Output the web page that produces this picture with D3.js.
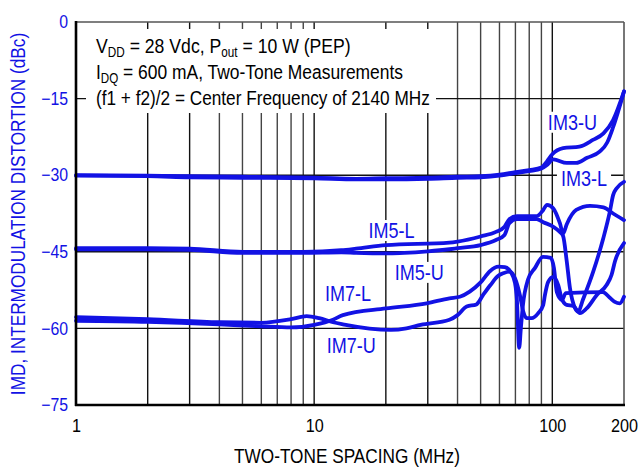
<!DOCTYPE html>
<html>
<head>
<meta charset="utf-8">
<script src="https://cdn.jsdelivr.net/npm/d3@7"></script>
<style>
  body { margin: 0; background: #fff; }
  text { font-family: "Liberation Sans", Arial, sans-serif; }
</style>
</head>
<body>
<script>
const width = 639;
const height = 467;
const blue = "#1212e4";

// tick values
const xTicks = [1, 10, 100, 200];
const yTicks = [0, -15, -30, -45, -60, -75];
const xGrid = [2, 3, 4, 5, 6, 7, 8, 9, 10, 20, 30, 40, 50, 60, 70, 80, 90, 100];
const yGrid = [-15, -30, -45, -60];

// series: [two-tone spacing MHz, IMD dBc]
const im3u = [[1,-30.0],[2,-30.1],[3,-30.2],[5,-30.3],[10,-30.5],[15,-30.7],[20,-30.6],[30,-30.5],[40,-30.3],[50,-30.2],[60,-29.9],[70,-29.4],[80,-29.0],[90,-28.5],[95,-27.3],[100,-25.9],[111,-24.7],[130,-24.4],[148,-23.1],[164,-21.8],[180,-19.2],[200,-13.6]];
const im3l = [[1,-30.1],[2,-30.2],[3,-30.4],[5,-30.5],[10,-30.6],[15,-30.8],[20,-30.8],[30,-30.7],[40,-30.5],[50,-30.4],[60,-30.1],[70,-29.6],[80,-29.2],[90,-28.7],[95,-28.0],[101,-26.9],[115,-27.6],[126,-27.6],[140,-26.6],[158,-25.4],[170,-23.6],[180,-20.6],[200,-13.6]];
const im5l = [[1,-44.3],[2,-44.3],[3,-44.4],[5,-45.0],[9,-45.0],[13,-44.7],[15,-44.4],[20,-43.7],[37,-43.2],[40,-43.0],[50,-42.0],[58,-41.1],[63,-40.1],[66,-38.6],[71,-38.0],[86,-38.0],[91.6,-36.8],[95,-35.8],[101,-36.5],[107.6,-39.4],[111,-41.4],[115,-39.6],[126,-36.8],[144,-36.0],[164,-36.3],[180,-37.5],[200,-38.8]];
const im5u = [[1,-44.5],[2,-44.5],[3,-44.6],[5,-45.2],[9,-45.2],[13,-45.1],[15,-45.2],[20,-45.3],[30,-44.9],[37,-44.5],[40,-44.3],[50,-43.7],[58,-42.7],[63,-41.7],[66,-39.4],[71,-38.6],[86,-38.6],[91.6,-39.2],[101,-40.1],[107.6,-41.1],[111,-41.9],[114.8,-46.6],[118.6,-52.1],[124.5,-56.0],[128.5,-56.7],[134.4,-54.4],[148.5,-48.9],[163.6,-42.4],[174.5,-37.1],[180,-33.9],[186,-32.6],[200,-31.3]];
const im7l = [[1,-58.5],[2,-58.7],[4,-59.2],[6,-59.6],[8,-59.8],[10,-59.3],[12,-58.3],[13.2,-57.4],[20,-56.1],[29.7,-55.1],[37,-54.1],[40.9,-53.8],[45,-52.8],[50,-51.0],[54.7,-48.8],[59.3,-47.9],[63.2,-48.0],[67,-49.0],[69.7,-51.1],[71,-54.4],[72.6,-63.8],[73.8,-59.9],[75.3,-55.4],[79,-50.5],[84.5,-48.2],[91.3,-46.0],[98.6,-46.2],[101.6,-48.2],[104.5,-52.9],[109.7,-54.4],[114,-53.1],[163,-52.9],[174.5,-54.0],[183,-54.8],[192,-55.1],[200,-53.8]];
const im7u = [[1,-57.8],[2,-58.2],[4,-58.8],[6,-58.9],[8,-58.2],[9.3,-57.6],[10.5,-58.0],[12,-58.8],[13.2,-59.2],[21,-60.3],[24.4,-60.0],[28,-59.3],[37,-58.3],[40,-57.4],[43.7,-55.7],[48,-55.3],[51.3,-53.4],[55,-51.5],[59.3,-49.7],[62.2,-49.2],[66.4,-48.9],[69.7,-50.2],[73.1,-53.5],[75.5,-56.7],[78,-58.0],[81.9,-58.0],[87.3,-57.0],[91.6,-55.4],[93.1,-53.5],[96.1,-50.9],[100.9,-49.9],[105.9,-51.5],[109.4,-54.1],[114.8,-55.4],[122.4,-55.6],[130.6,-57.0],[139.3,-56.1],[153.5,-53.5],[169,-51.5],[177.4,-49.5],[183.2,-46.9],[200,-43.3]];

const series = [im3u, im3l, im5l, im5u, im7l, im7u];

// curve labels, anchored in data units (left edge, baseline)
const labels = [
  {text: "IM3-U", f: 95.8, v: -21.1},
  {text: "IM3-L", f: 108.7, v: -32.2},
  {text: "IM5-L", f: 16.9, v: -42.3},
  {text: "IM5-U", f: 21.8, v: -50.5},
  {text: "IM7-L", f: 11.1, v: -54.7},
  {text: "IM7-U", f: 11.3, v: -64.8}
];

const margin = {top: 22, right: 15, bottom: 62, left: 76};
const narrow = 0.82;   // condensed look, like the datasheet face

const x = d3.scaleLog().domain([1, 200]).range([margin.left, width - margin.right]);
const y = d3.scaleLinear().domain([-75, 0]).range([height - margin.bottom, margin.top]);

const svg = d3.select("body").append("svg")
  .attr("width", width)
  .attr("height", height);

svg.append("rect").attr("width", width).attr("height", height).attr("fill", "#fff");

// squeeze a text horizontally around its anchor point
function squeeze(t, x0, y0, extra, k) {
  t.attr("x", 0).attr("y", 0)
   .attr("transform", "translate(" + x0 + "," + y0 + ")" + (extra || "") + " scale(" + (k || narrow) + ",1)");
  return t;
}

// grid
svg.append("g")
  .selectAll("line")
  .data(xGrid)
  .enter().append("line")
  .attr("x1", d => x(d)).attr("x2", d => x(d))
  .attr("y1", y(0)).attr("y2", y(-75))
  .attr("stroke", d => d < 4 || d == 10 || d == 20 || d == 30 || d == 100 ? "#111" : "#444")
  .attr("stroke-width", 1.4);

svg.append("g")
  .selectAll("line")
  .data(yGrid)
  .enter().append("line")
  .attr("x1", x(1)).attr("x2", x(200))
  .attr("y1", d => y(d)).attr("y2", d => y(d))
  .attr("stroke", "#111")
  .attr("stroke-width", 1.4);

// frame
svg.append("line").attr("x1", x(1)).attr("x2", x(200)).attr("y1", y(0)).attr("y2", y(0))
  .attr("stroke", "#555").attr("stroke-width", 1.6);
svg.append("line").attr("x1", x(200)).attr("x2", x(200)).attr("y1", y(0)).attr("y2", y(-75))
  .attr("stroke", "#555").attr("stroke-width", 1.6);

// annotation block covers the grid
svg.append("rect")
  .attr("x", 86).attr("y", 29).attr("width", 350).attr("height", 84)
  .attr("fill", "#fff");

// label backgrounds
const labelG = svg.append("g");
labels.forEach(function(l) {
  const t = labelG.append("text").attr("font-size", 22).text(l.text);
  const w = t.node().getComputedTextLength() * narrow;
  t.remove();
  labelG.append("rect")
    .attr("x", x(l.f) - 4).attr("y", y(l.v) - 18)
    .attr("width", w + 8).attr("height", 21)
    .attr("fill", "#fff");
});

// curves
const line = d3.line()
  .x(d => x(d[0]))
  .y(d => y(d[1]))
  .curve(d3.curveMonotoneX);

svg.append("g")
  .selectAll("path")
  .data(series)
  .enter().append("path")
  .attr("d", line)
  .attr("fill", "none")
  .attr("stroke", blue)
  .attr("stroke-width", 3.8)
  .attr("stroke-linejoin", "round")
  .attr("stroke-linecap", "round");

svg.append("g")
  .selectAll("text")
  .data(labels)
  .enter().append("text")
  .attr("font-size", 22)
  .attr("fill", blue)
  .text(d => d.text)
  .each(function(d) { squeeze(d3.select(this), x(d.f), y(d.v)); });

// axes
svg.append("line").attr("x1", x(1)).attr("x2", x(1)).attr("y1", y(0) - 1).attr("y2", y(-75) + 1)
  .attr("stroke", "#000").attr("stroke-width", 2.6);
svg.append("line").attr("x1", x(1) - 1).attr("x2", x(200) + 1).attr("y1", y(-75)).attr("y2", y(-75))
  .attr("stroke", "#000").attr("stroke-width", 2.6);

const yAxis = svg.append("g")
  .attr("transform", "translate(" + margin.left + ",0)")
  .call(d3.axisLeft(y).tickValues(yTicks).tickSize(0).tickPadding(8)
    .tickFormat(d => d === 0 ? "0" : "\u2212" + Math.abs(d)));
yAxis.select(".domain").remove();
yAxis.selectAll("text").attr("font-size", 18).attr("fill", blue)
  .attr("font-family", null)
  .attr("transform", "translate(-8,0) scale(0.88,1) translate(8,0)");

const xAxis = svg.append("g")
  .attr("transform", "translate(0," + y(-75) + ")")
  .call(d3.axisBottom(x).tickValues(xTicks).tickSize(0).tickPadding(14)
    .tickFormat(d3.format("d")));
xAxis.select(".domain").remove();
xAxis.selectAll("text").attr("font-size", 18).attr("fill", "#000")
  .attr("font-family", null)
  .attr("transform", "scale(0.9,1)");

// axis titles
squeeze(svg.append("text")
  .attr("text-anchor", "middle")
  .attr("font-size", 21)
  .text("TWO-TONE SPACING (MHz)"), 347, 463);

squeeze(svg.append("text")
  .attr("text-anchor", "middle")
  .attr("font-size", 21)
  .attr("fill", blue)
  .text("IMD, INTERMODULATION DISTORTION (dBc)"), 25, 214, " rotate(-90)");

// conditions text
const note = svg.append("g").attr("font-size", 21);
function sub(t, s) {
  t.append("tspan").attr("font-size", 14).attr("dy", 4).text(s);
}
const l1 = note.append("text");
l1.append("tspan").text("V");
sub(l1, "DD");
l1.append("tspan").attr("dy", -4).text(" = 28 Vdc, P");
sub(l1, "out");
l1.append("tspan").attr("dy", -4).text(" = 10 W (PEP)");
squeeze(l1, 96, 53, "", 0.84);

const l2 = note.append("text");
l2.append("tspan").text("I");
sub(l2, "DQ");
l2.append("tspan").attr("dy", -4).text(" = 600 mA, Two-Tone Measurements");
squeeze(l2, 96, 79, "", 0.83);

squeeze(note.append("text")
  .text("(f1 + f2)/2 = Center Frequency of 2140 MHz"), 96, 105);
</script>
</body>
</html>
